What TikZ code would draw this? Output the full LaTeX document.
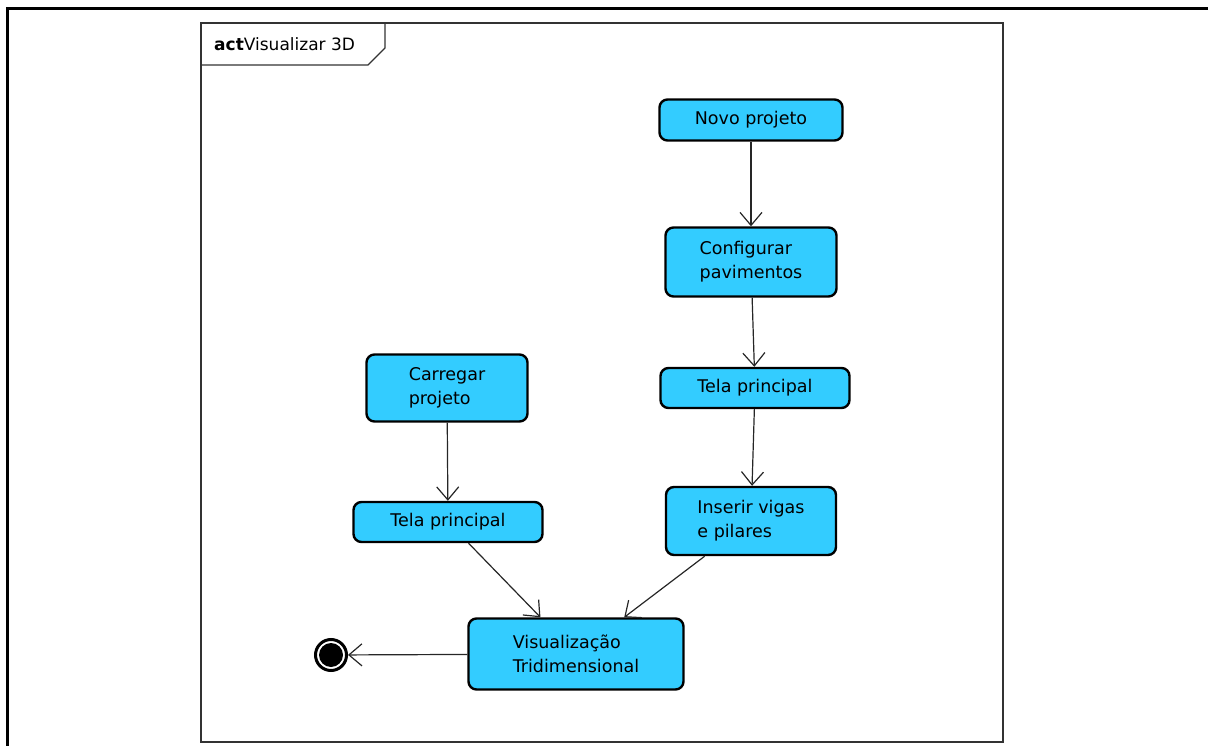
\documentclass[tikz,border=0pt]{standalone}
\usepackage{fontspec}
\setmainfont{DejaVu Sans}
\usetikzlibrary{arrows.meta}
\definecolor{acaocor}{HTML}{33CCFF}

\begin{document}
\begin{tikzpicture}[x=1pt,y=-1pt,
    acao/.style={draw=black, line width=2.4pt, fill=acaocor, rounded corners=8pt,
      inner sep=0pt, align=left, font=\fontsize{17.5}{24}\selectfont},
    fluxo/.style={draw=black!85, line width=1.2pt,
      -{Straight Barb[length=13pt,width=22pt,line width=1.2pt]}}]
    %moldura
    \useasboundingbox (0,0) rectangle (1208,746);
    \draw[line width=3pt] (7,746) -- (7,9) -- (1208,9);
    \draw[line width=1.2pt, black!80] (201,23) rectangle (1003,742);
    \draw[line width=1.2pt, black!80] (201,65) -- (368,65) -- (385,48) -- (385,23);
    \node[anchor=west, inner sep=0pt, font=\fontsize{17}{20}\selectfont] (titulo) at (214,44)
      {\textbf{act}Visualizar 3D};
    %acoes
    \node[acao, minimum width=183, minimum height=41] (novo) at (751,120) {Novo projeto};
    \node[acao, minimum width=171, minimum height=69] (config) at (751,262) {Configurar\\pavimentos};
    \node[acao, minimum width=189, minimum height=40] (telaR) at (755,388) {Tela principal};
    \node[acao, minimum width=170, minimum height=68] (inserir) at (751,521) {Inserir vigas\\e pilares};
    \node[acao, minimum width=161, minimum height=67] (carregar) at (447,388) {Carregar\\projeto};
    \node[acao, minimum width=189, minimum height=40] (telaL) at (448,522) {Tela principal};
    \node[acao, minimum width=215, minimum height=71] (visual) at (576,654) {Visualização\\Tridimensional};
    %final
    \node[circle, draw=black, line width=3pt, fill=white, minimum size=31pt, inner sep=0pt] (fim) at (331,655) {};
    \node[circle, fill=black, minimum size=24pt, inner sep=0pt] (fimc) at (fim) {};
    %fluxos
    \draw[fluxo] (novo) -- (config);
    \draw[fluxo] (config) -- (telaR);
    \draw[fluxo] (telaR) -- (inserir);
    \draw[fluxo] (carregar) -- (telaL);
    \draw[fluxo] (telaL) -- (visual);
    \draw[fluxo] (inserir) -- (visual);
    \draw[fluxo] (visual) -- (fim);
\end{tikzpicture}
\end{document}
